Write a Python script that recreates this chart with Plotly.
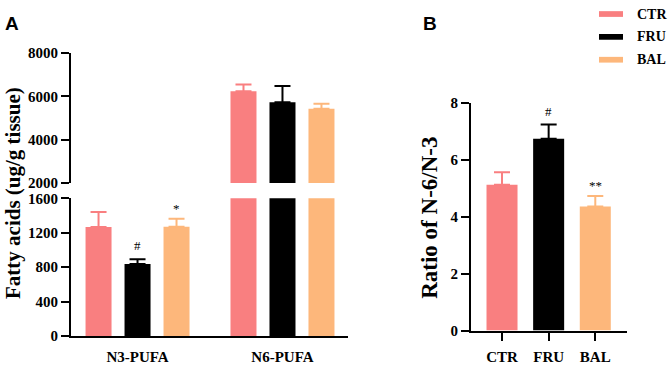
import plotly.graph_objects as go

# ---------------- data ----------------
groups = ["CTR", "FRU", "BAL"]
colors = ["#F97F80", "#000000", "#FDB77B"]
categories = ["N3-PUFA", "N6-PUFA"]

fa_mean = {
    "CTR": [1267, 6230],
    "FRU": [837, 5730],
    "BAL": [1270, 5420],
}
fa_err = {
    "CTR": [175, 310],
    "FRU": [55, 740],
    "BAL": [93, 230],
}
fa_sig = {
    "CTR": ["", ""],
    "FRU": ["#", ""],
    "BAL": ["*", ""],
}

ratio_mean = [5.12, 6.74, 4.36]
ratio_err = [0.44, 0.50, 0.37]
ratio_sig = ["", "#", "**"]

low_ticks = [0, 400, 800, 1200, 1600]
high_ticks = [2000, 4000, 6000, 8000]
ratio_ticks = [0, 2, 4, 6, 8]

# ---------------- layout helpers ----------------
W, H = 671, 365
def fx(px):
    return px / W
def fy(py):
    return 1 - py / H

SERIF = "Liberation Serif"
SANS = "Liberation Sans"
tick_font = dict(family=SERIF, size=15, color="black")

BARGAP = 0.193
BARGROUPGAP = 0.333
SIG_SHIFT = {"#": 4, "*": 1, "**": 1}

def bold(vals):
    return ["<b>%s</b>" % v for v in vals]

fig = go.Figure()

# Panel A: lower (y) and upper (y2) segments sharing x
for g, c in zip(groups, colors):
    for yax in ["y", "y2"]:
        fig.add_trace(go.Bar(
            x=categories, y=fa_mean[g], name=g, xaxis="x", yaxis=yax,
            marker=dict(color=c, line=dict(width=0)),
            error_y=dict(type="data", array=fa_err[g], arrayminus=[0] * len(categories),
                         symmetric=False, color=c, thickness=2, width=8),
            showlegend=False, hoverinfo="skip",
        ))

# Panel B
for i, (g, c) in enumerate(zip(groups, colors)):
    fig.add_trace(go.Bar(
        x=[g], y=[ratio_mean[i]], name=g, xaxis="x2", yaxis="y3",
        marker=dict(color=c, line=dict(width=0)), width=0.665, offsetgroup="b",
        error_y=dict(type="data", array=[ratio_err[i]], arrayminus=[0],
                     symmetric=False, color=c, thickness=2, width=8),
        showlegend=False, hoverinfo="skip",
    ))

def axis_common():
    return dict(showline=True, linewidth=2, linecolor="black", showgrid=False,
                zeroline=False, tickfont=dict(tick_font), tickwidth=2, tickcolor="black")

fig.update_layout(
    width=W, height=H, margin=dict(l=0, r=0, t=0, b=0),
    paper_bgcolor="white", plot_bgcolor="white",
    font=dict(family=SERIF, size=15, color="black"),
    barmode="group", bargap=BARGAP, bargroupgap=BARGROUPGAP,
    xaxis=dict(domain=[fx(71), fx(348)], anchor="y", type="category",
               range=[-0.459, 1.452], ticks="", ticklabelstandoff=6,
               tickvals=categories, ticktext=bold(categories), **axis_common()),
    yaxis=dict(domain=[fy(343), fy(199)], anchor="x", range=[0, 1600],
               tickvals=low_ticks, ticktext=bold(low_ticks),
               ticks="outside", ticklen=8, **axis_common()),
    yaxis2=dict(domain=[fy(183), fy(47)], anchor="x", range=[2000, 8000],
                tickvals=high_ticks, ticktext=bold(high_ticks),
                ticks="outside", ticklen=8, **axis_common()),
    xaxis2=dict(domain=[fx(471), fx(627)], anchor="y3", type="category",
                range=[-0.665, 2.68], ticks="outside", ticklen=8, ticklabelstandoff=3,
                tickvals=groups, ticktext=bold(groups), **axis_common()),
    yaxis3=dict(domain=[fy(337.3), fy(99.3)], anchor="x2", range=[0, 8],
                tickvals=ratio_ticks, ticktext=bold(ratio_ticks),
                ticks="outside", ticklen=8, **axis_common()),
)

annotations = []
shapes = []

# significance markers panel A
slot = (1 - BARGAP) / len(groups)
for gi, g in enumerate(groups):
    off = (gi - (len(groups) - 1) / 2) * slot
    for ci, s in enumerate(fa_sig[g]):
        if s:
            annotations.append(dict(
                x=ci + off, y=fa_mean[g][ci] + fa_err[g][ci], xref="x", yref="y",
                text=s, showarrow=False, yanchor="bottom", yshift=SIG_SHIFT[s],
                font=dict(family=SERIF, size=13, color="black")))

# significance markers panel B
for i, s in enumerate(ratio_sig):
    if s:
        annotations.append(dict(
            x=i, y=ratio_mean[i] + ratio_err[i], xref="x2", yref="y3",
            text=s, showarrow=False, yanchor="bottom", yshift=SIG_SHIFT[s],
            font=dict(family=SERIF, size=13, color="black")))

# axis titles
annotations.append(dict(x=fx(13.5), y=fy(194), xref="paper", yref="paper",
                        text="<b>Fatty acids (ug/g tissue)</b>", textangle=-90, showarrow=False,
                        xanchor="center", yanchor="middle",
                        font=dict(family=SERIF, size=21, color="black")))
annotations.append(dict(x=fx(429.4), y=fy(219), xref="paper", yref="paper",
                        text="<b>Ratio of N-6/N-3</b>", textangle=-90, showarrow=False,
                        xanchor="center", yanchor="middle",
                        font=dict(family=SERIF, size=23, color="black")))

# panel labels
annotations.append(dict(x=fx(3), y=fy(3.5), xref="paper", yref="paper", text="<b>A</b>",
                        showarrow=False, xanchor="left", yanchor="top",
                        font=dict(family=SANS, size=19, color="black")))
annotations.append(dict(x=fx(421), y=fy(3.5), xref="paper", yref="paper", text="<b>B</b>",
                        showarrow=False, xanchor="left", yanchor="top",
                        font=dict(family=SANS, size=19, color="black")))

# legend (manual)
for i, (g, c) in enumerate(zip(groups, colors)):
    cy = 6.3 + i * 23.9
    shapes.append(dict(type="rect", xref="paper", yref="paper",
                       x0=fx(599), x1=fx(623), y0=fy(cy - 3), y1=fy(cy + 3),
                       fillcolor=c, line=dict(width=0)))
    annotations.append(dict(x=fx(635), y=fy(cy), xref="paper", yref="paper",
                            text="<b>%s</b>" % g,
                            showarrow=False, xanchor="left", yanchor="middle",
                            font=dict(family=SERIF, size=14, color="black")))

fig.update_layout(annotations=annotations, shapes=shapes)
fig.write_html("out.html", config={"displayModeBar": False},
               post_script="document.body.style.margin='0';document.body.style.padding='0';")
